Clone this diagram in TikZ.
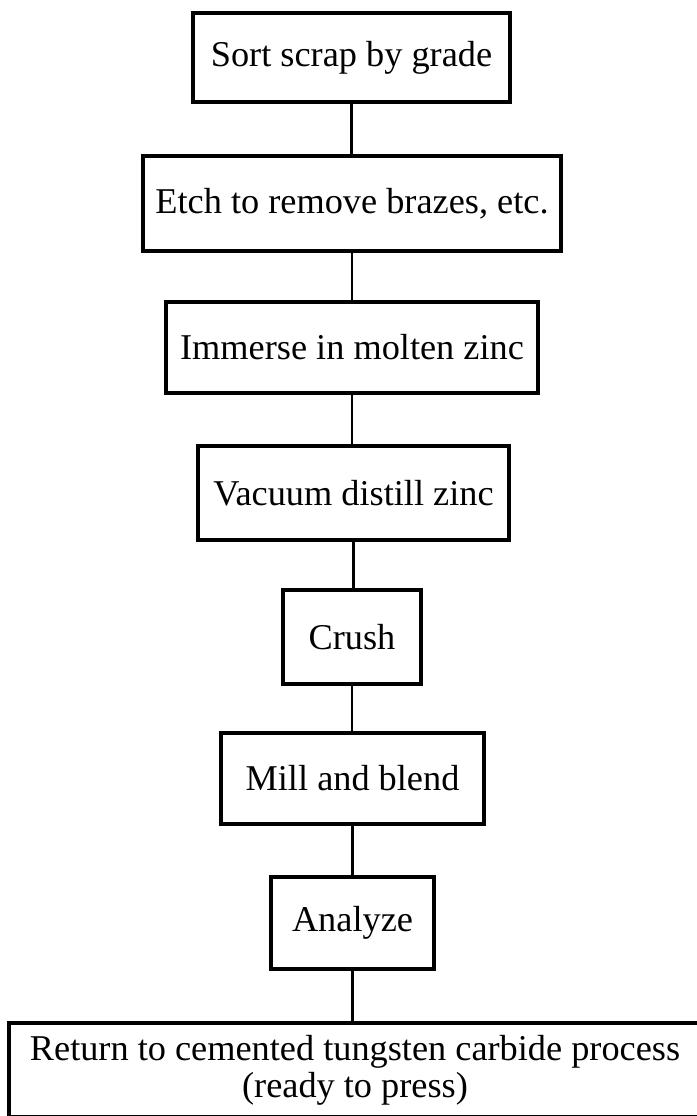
\documentclass[tikz,border=0pt]{standalone}
\usepackage{fontspec}
\setmainfont{Liberation Serif}
\begin{document}
\begin{tikzpicture}[x=1pt,y=-1pt,
  stepbox/.style={draw, line width=3.1pt, inner sep=0pt,
    font=\fontsize{36.3}{37}\selectfont, align=center},
  link/.style={line width=2.7pt}]
\useasboundingbox (0,0) rectangle (696,1116);
% process steps, top to bottom
\node[stepbox, minimum width=317pt, minimum height=89pt] (sort)    at (351.5,57.5)  {Sort scrap by grade};
\node[stepbox, minimum width=418pt, minimum height=95pt] (etch)    at (352,203.5)   {Etch to remove brazes, etc.};
\node[stepbox, minimum width=372pt, minimum height=91pt] (immerse) at (352,347.5)   {Immerse in molten zinc};
\node[stepbox, minimum width=311pt, minimum height=94pt] (distill) at (353.5,493)   {Vacuum distill zinc};
\node[stepbox, minimum width=138pt, minimum height=94pt] (crush)   at (352,637)     {Crush};
\node[stepbox, minimum width=263pt, minimum height=91pt] (mill)    at (352.5,778.5) {Mill and blend};
\node[stepbox, minimum width=163pt, minimum height=92pt] (analyze) at (352.5,923)   {Analyze};
% last step runs past the right and bottom page edges
\node[stepbox, minimum width=692pt, minimum height=94pt] (return)  at (355,1070)
  {Return to cemented tungsten carbide process\\(ready to press)};
% connectors between consecutive steps
\draw[link] (sort.south)    -- (sort.south    |- etch.north);
\draw[link] (etch.south)    -- (etch.south    |- immerse.north);
\draw[link] (immerse.south) -- (immerse.south |- distill.north);
\draw[link] (distill.south) -- (distill.south |- crush.north);
\draw[link] (crush.south)   -- (crush.south   |- mill.north);
\draw[link] (mill.south)    -- (mill.south    |- analyze.north);
\draw[link] (analyze.south) -- (analyze.south |- return.north);
\end{tikzpicture}
\end{document}
